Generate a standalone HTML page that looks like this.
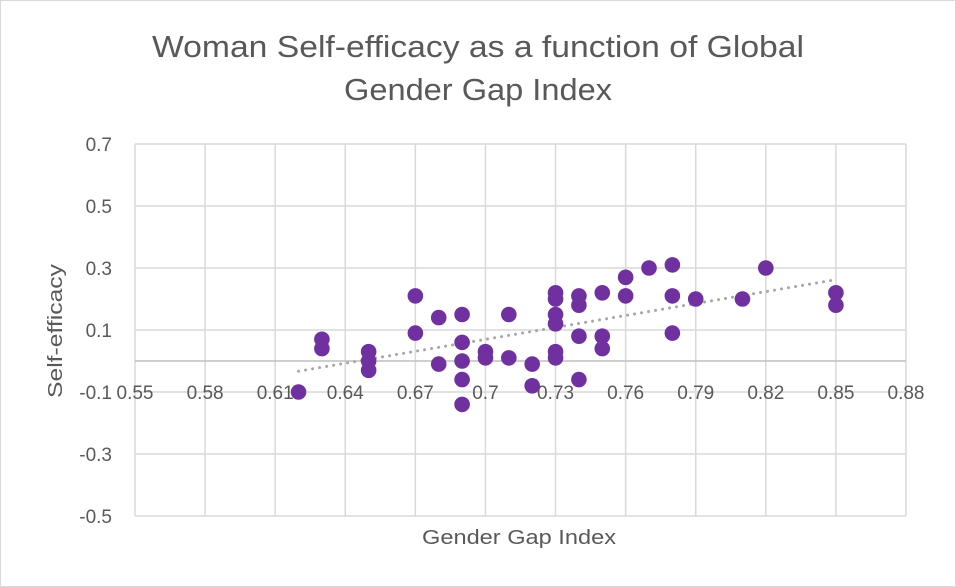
<!DOCTYPE html>
<html><head><meta charset="utf-8"><style>
body{margin:0;background:#fff;}
svg{display:block;font-family:"Liberation Sans",sans-serif;}
</style></head><body>
<svg id="c" width="956" height="587">
<rect x="0.5" y="0.5" width="955" height="586" fill="#fff" stroke="#d9d9d9"/>
<text x="478" y="57" text-anchor="middle" font-size="31" fill="#595959" textLength="652" lengthAdjust="spacingAndGlyphs">Woman Self-efficacy as a function of Global</text>
<text x="478" y="100" text-anchor="middle" font-size="31" fill="#595959" textLength="268" lengthAdjust="spacingAndGlyphs">Gender Gap Index</text>
<text x="519" y="544" text-anchor="middle" font-size="20" fill="#595959" textLength="194" lengthAdjust="spacingAndGlyphs">Gender Gap Index</text>
<text transform="translate(62,331) rotate(-90)" text-anchor="middle" font-size="20" fill="#595959" textLength="134" lengthAdjust="spacingAndGlyphs">Self-efficacy</text>
<g id="grid"></g><g id="trend"></g><g id="pts"></g>
</svg>
<script>
const xTicks=[0.55,0.58,0.61,0.64,0.67,0.7,0.73,0.76,0.79,0.82,0.85,0.88];
const xLabels=["0.55","0.58","0.61","0.64","0.67","0.7","0.73","0.76","0.79","0.82","0.85","0.88"];
const yTicks=[0.7,0.5,0.3,0.1,-0.1,-0.3,-0.5];
const yLabels=["0.7","0.5","0.3","0.1","-0.1","-0.3","-0.5"];
const gap=[0.62,0.63,0.63,0.65,0.65,0.65,0.67,0.67,0.68,0.68,0.69,0.69,0.69,0.69,0.69,0.70,0.70,0.71,0.71,0.72,0.72,0.73,0.73,0.73,0.73,0.73,0.73,0.74,0.74,0.74,0.74,0.75,0.75,0.75,0.76,0.76,0.77,0.78,0.78,0.78,0.79,0.81,0.82,0.85,0.85];
const eff=[-0.10,0.07,0.04,0.03,0.0,-0.03,0.21,0.09,0.14,-0.01,0.15,0.06,0.0,-0.06,-0.14,0.03,0.01,0.15,0.01,-0.01,-0.08,0.22,0.20,0.15,0.12,0.03,0.01,0.21,0.18,0.08,-0.06,0.22,0.08,0.04,0.27,0.21,0.30,0.31,0.21,0.09,0.20,0.20,0.30,0.22,0.18];
const X=v=>135+(v-0.55)/0.33*771;
const Y=v=>361-v*310;
const NS="http://www.w3.org/2000/svg";
function mk(t,a,p){const e=document.createElementNS(NS,t);for(const k in a)e.setAttribute(k,a[k]);p.appendChild(e);return e;}
const grid=document.getElementById('grid');
xTicks.forEach((v,i)=>{
 const l=mk('line',{x1:X(v),x2:X(v),y1:144,y2:516,stroke:'#d9d9d9','stroke-width':1.5},grid);
 
 
});
yTicks.forEach((v,i)=>{
 const l=mk('line',{x1:135,x2:906,y1:Y(v),y2:Y(v),stroke:'#d9d9d9','stroke-width':1.5},grid);
 
 
 const t=mk('text',{x:112,y:Y(v)+7,'text-anchor':'end','font-size':19,fill:'#595959'},grid);
 t.textContent=yLabels[i];
 
 
});
xTicks.forEach((v,i)=>{
 const t=mk('text',{x:X(v),y:399,'text-anchor':'middle','font-size':19,fill:'#595959'},grid);
 t.textContent=xLabels[i];
 
 
});
const ax=mk('line',{x1:135,x2:906,y1:Y(0),y2:Y(0),stroke:'#bfbfbf','stroke-width':1.5},grid);


const n=gap.length;let mx=0,my=0;gap.forEach((g,i)=>{mx+=g;my+=eff[i];});mx/=n;my/=n;
let sxy=0,sxx=0;gap.forEach((g,i)=>{sxy+=(g-mx)*(eff[i]-my);sxx+=(g-mx)*(g-mx);});
const b=sxy/sxx,a=my-b*mx;const x0=Math.min(...gap),x1=Math.max(...gap);
const tl=mk('line',{x1:X(x0),y1:Y(a+b*x0),x2:X(x1),y2:Y(a+b*x1),stroke:'#a6a6a6','stroke-width':3,'stroke-dasharray':'0.1 7','stroke-linecap':'round'},document.getElementById('trend'));


const pts=document.getElementById('pts');
gap.forEach((g,i)=>{
 const c=mk('circle',{cx:X(g),cy:Y(eff[i]),r:7.8,fill:'#7030a0'},pts);
 
 
});
</script>
</body></html>
